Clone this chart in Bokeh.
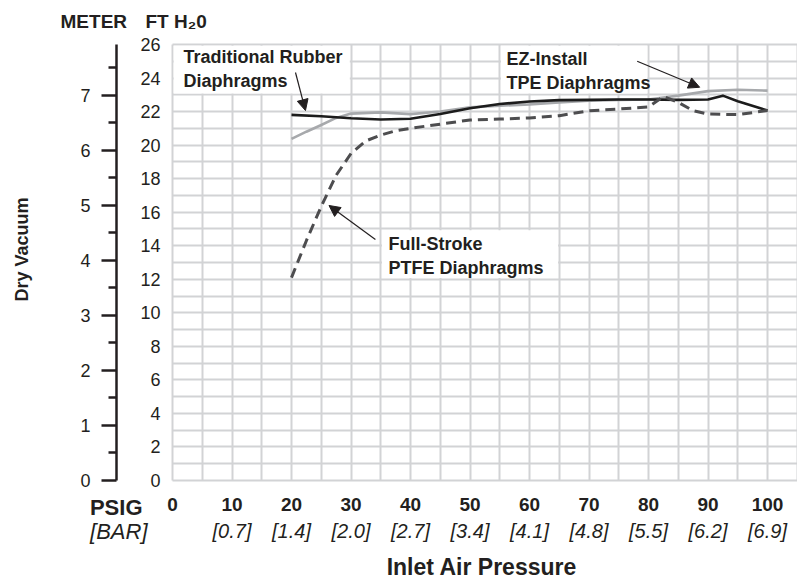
from bokeh.plotting import figure
from bokeh.models import Range1d, LinearAxis, FixedTicker, Label, Arrow, NormalHead
from bokeh.embed import file_html
from bokeh.resources import INLINE
import math

# ---------------- data ----------------
psig_ticks = [0, 10, 20, 30, 40, 50, 60, 70, 80, 90, 100]
bar_ticks = [10, 20, 30, 40, 50, 60, 70, 80, 90, 100]
bar_labels = ["[0.7]", "[1.4]", "[2.0]", "[2.7]", "[3.4]", "[4.1]", "[4.8]", "[5.5]", "[6.2]", "[6.9]"]
ft_ticks = [0, 2, 4, 6, 8, 10, 12, 14, 16, 18, 20, 22, 24, 26]
meter_ticks = [0, 1, 2, 3, 4, 5, 6, 7]
meter_minor = [0.5, 1.5, 2.5, 3.5, 4.5, 5.5, 6.5, 7.5]
FT_PER_M = 3.28084

trad_x = [20, 25, 30, 35, 40, 45, 50, 55, 60, 65, 70, 75, 80, 85, 90, 92.5, 95, 100]
trad_y = [21.8, 21.72, 21.6, 21.53, 21.57, 21.86, 22.2, 22.45, 22.6, 22.68, 22.7, 22.72,
          22.72, 22.7, 22.72, 22.95, 22.62, 22.06]

ez_x = [20, 22.5, 25, 27.5, 30, 35, 40, 45, 50, 55, 60, 65, 70, 75, 80, 85, 90, 95, 100]
ez_y = [20.37, 20.8, 21.2, 21.62, 21.88, 21.95, 21.85, 22.0, 22.25, 22.35, 22.43, 22.55,
        22.65, 22.7, 22.72, 22.95, 23.22, 23.3, 23.25]

ptfe_x = [20, 22.5, 25, 27.5, 30, 32.5, 35, 37.5, 40, 45, 50, 55, 60, 65, 70, 75, 80,
          82.5, 85, 87.5, 90, 95, 100]
ptfe_y = [12.1, 14.3, 16.35, 18.2, 19.5, 20.25, 20.6, 20.85, 21.0, 21.25, 21.5, 21.55,
          21.62, 21.75, 22.05, 22.15, 22.28, 22.9, 22.55, 22.05, 21.85, 21.82, 22.06]

# ---------------- styles ----------------
FONT = "Liberation Sans"
INK = "#231f20"
GRID = "#d2d3d5"

# frame covers the whole canvas; the chart grid spans 0..105 PSIG and 0..26 ft
X0, X1 = -28.908, 105.042
Y0, Y1 = -5.963, 28.623

p = figure(width=797, height=580, output_backend="svg", toolbar_location=None,
           x_range=Range1d(X0, X1), y_range=Range1d(Y0, Y1),
           min_border=0, min_border_left=0, min_border_right=0,
           min_border_top=0, min_border_bottom=0)
p.outline_line_color = None
p.background_fill_color = "white"
p.border_fill_color = "white"

# grid
xg, yg = p.xgrid[0], p.ygrid[0]
xg.ticker = FixedTicker(ticks=list(range(0, 106, 5)))
yg.ticker = FixedTicker(ticks=list(range(0, 27)))
if "cross_bounds" in xg.properties():
    xg.cross_bounds = (0, 26)
    yg.cross_bounds = (0, 105.1)
    for g in (xg, yg):
        g.grid_line_color = GRID
        g.grid_line_width = 2
else:
    xg.visible = False
    yg.visible = False
    gx = list(range(0, 106, 5))
    gy = list(range(0, 27))
    p.segment(x0=gx, x1=gx, y0=[0] * len(gx), y1=[26] * len(gx),
              line_color=GRID, line_width=2)
    p.segment(x0=[0] * len(gy), x1=[105.1] * len(gy), y0=gy, y1=gy,
              line_color=GRID, line_width=2)

def plain_axis(ax, size, style="normal", standoff=5):
    ax.axis_line_color = None
    ax.major_tick_line_color = None
    ax.minor_tick_line_color = None
    ax.major_label_standoff = standoff
    ax.major_label_text_font = FONT
    ax.major_label_text_font_size = size
    ax.major_label_text_font_style = style
    ax.major_label_text_color = INK

# PSIG axis (bottom, default)
xa = p.xaxis[0]
xa.ticker = FixedTicker(ticks=psig_ticks)
xa.fixed_location = 0
plain_axis(xa, "19px", "bold", 11)

# BAR axis (second row)
ba = LinearAxis(ticker=FixedTicker(ticks=bar_ticks),
                major_label_overrides=dict(zip(bar_ticks, bar_labels)))
ba.fixed_location = 0
plain_axis(ba, "20px", "italic", 33)
p.add_layout(ba, "below")

# FT H2O axis (left, default)
ya = p.yaxis[0]
ya.ticker = FixedTicker(ticks=ft_ticks)
ya.fixed_location = 0
plain_axis(ya, "18px", "normal", 6)

# METER axis (outer left)
p.extra_y_ranges = {"m": Range1d(Y0 / FT_PER_M, Y1 / FT_PER_M)}
ma = LinearAxis(y_range_name="m",
                ticker=FixedTicker(ticks=meter_ticks, minor_ticks=meter_minor))
ma.fixed_location = -9.41
ma.bounds = (0, 26 / FT_PER_M)
ma.axis_line_color = INK
ma.axis_line_width = 2.5
ma.major_tick_line_color = INK
ma.major_tick_line_width = 2.5
ma.minor_tick_line_color = INK
ma.minor_tick_line_width = 2.5
ma.major_tick_in = 0
ma.major_tick_out = 15
ma.minor_tick_in = 0
ma.minor_tick_out = 8
ma.major_label_standoff = 11
ma.major_label_text_font = FONT
ma.major_label_text_font_size = "18px"
ma.major_label_text_color = INK
p.add_layout(ma, "left")

# white label boxes over grid
box_l = [0, 55, 35]
box_r = [30, 80, 65]
box_b = [23, 23, 12]
box_t = [26, 26, 15]
p.quad(left=[v + 0.2 for v in box_l], right=[v - 0.2 for v in box_r],
       bottom=[v + 0.07 for v in box_b], top=[v - 0.07 for v in box_t],
       fill_color="white", line_color=None)

# curves
p.line(ez_x, ez_y, line_color="#a7a9ac", line_width=2.6, line_join="round")
p.line(trad_x, trad_y, line_color="#1c1c1c", line_width=2.6, line_join="round")
p.line(ptfe_x, ptfe_y, line_color="#4d4d4f", line_width=3, line_dash="10 6",
       line_join="round")

# texts
def lab(x, y, text, size, style="bold", align="left", baseline="top",
        angle=0.0, lh=1.2):
    p.add_layout(Label(x=x, y=y, text=text, text_font=FONT, text_font_size=size,
                       text_font_style=style, text_color=INK, text_align=align,
                       text_baseline=baseline, angle=angle, text_line_height=lh))

lab(1.85, 25.85, "Traditional Rubber\nDiaphragms", "18px")
lab(56.13, 25.74, "EZ-Install\nTPE Diaphragms", "18px")
lab(36.3, 14.71, "Full-Stroke\nPTFE Diaphragms", "18px")

# arrows
for xs, ys, xe, ye in [(20.67, 24.33, 22.35, 22.06),
                       (78.1, 25.0, 88.6, 23.45),
                       (34.1, 14.37, 26.3, 16.4)]:
    p.add_layout(Arrow(x_start=xs, y_start=ys, x_end=xe, y_end=ye,
                       line_color=INK, line_width=1.2,
                       end=NormalHead(size=11, fill_color=INK, line_color=INK,
                                      line_width=1)))

# headers / titles outside the grid
lab(-18.82, 27.98, "METER", "19px")
lab(-4.54, 27.98, "FT H\u20820", "19px")
lab(-5.04, -0.88, "PSIG", "22px", align="right")
lab(-4.2, -2.31, "[BAR]", "22px", style="italic", align="right")
lab(-26.96, 13.77, "Dry Vacuum", "18px", align="center", angle=math.pi / 2)
lab(52.0, -4.36, "Inlet Air Pressure", "23px", align="center")

open("out.html", "w").write(file_html(p, INLINE))
